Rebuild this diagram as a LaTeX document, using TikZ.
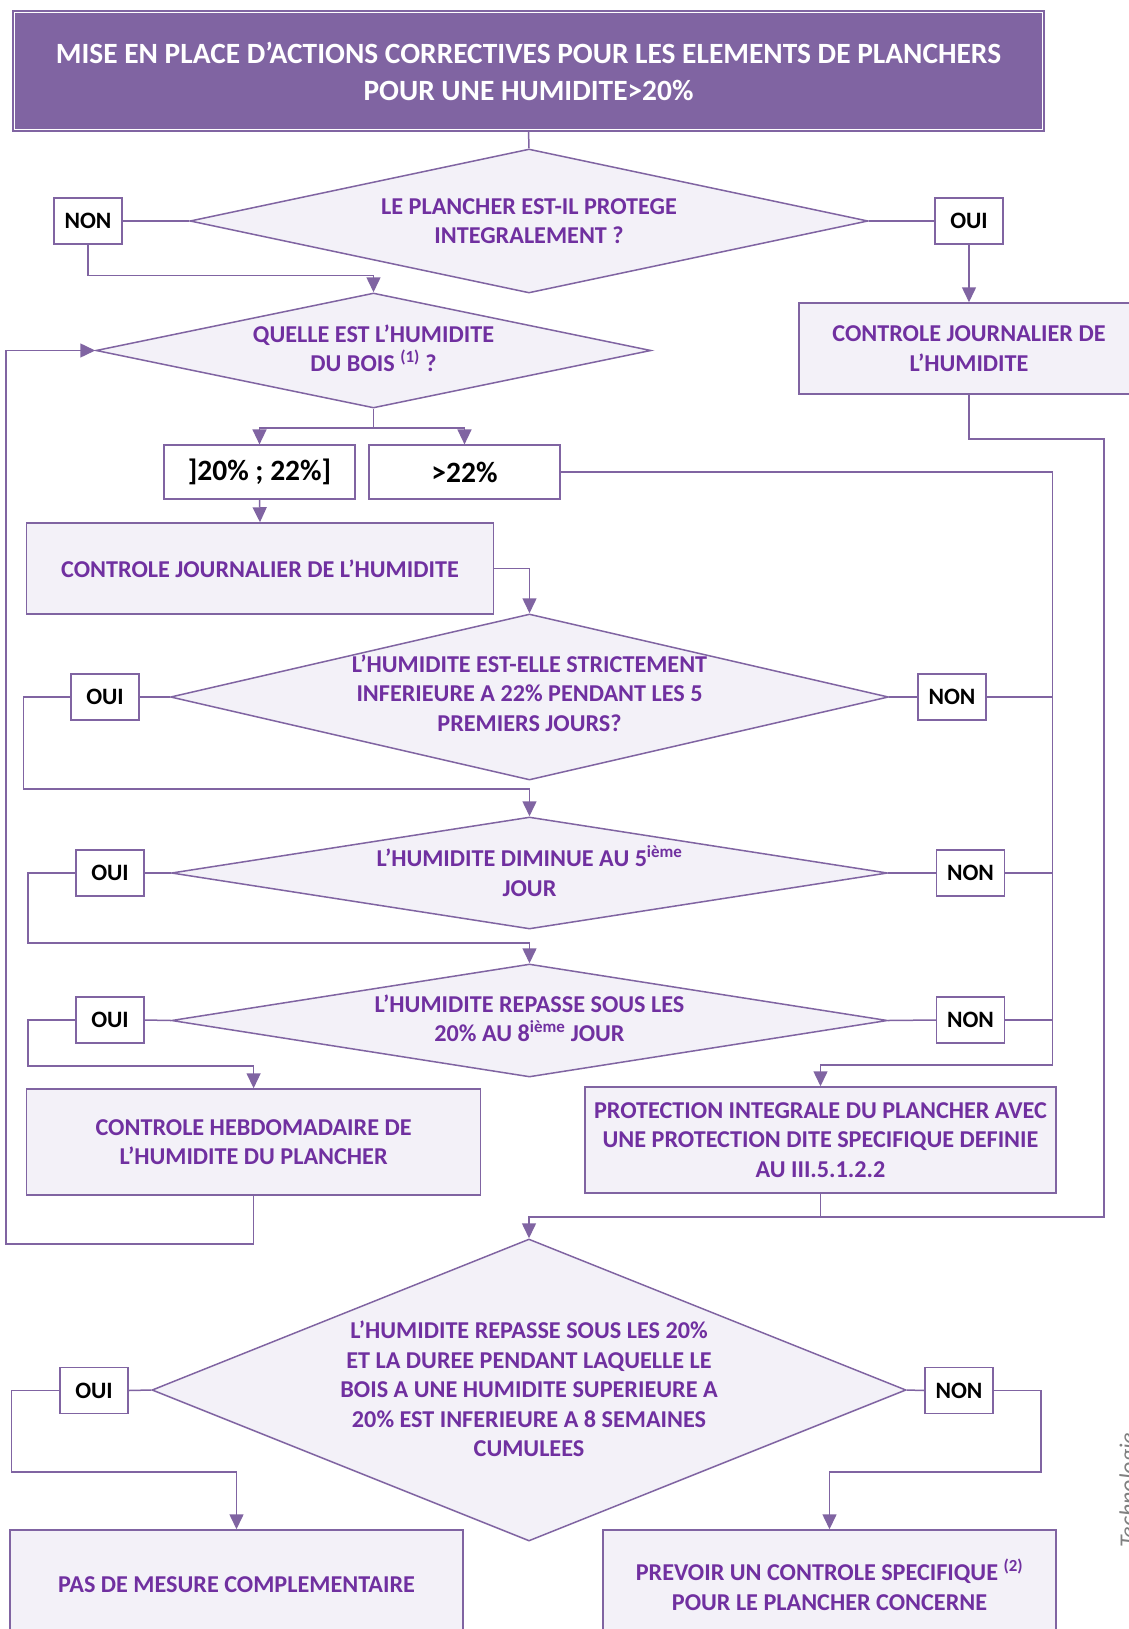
\documentclass[tikz,border=0pt]{standalone}
\usepackage{fontspec}
\setmainfont{Carlito}
\usetikzlibrary{positioning, calc, arrows.meta, shapes.geometric}

\definecolor{titlepurple}{HTML}{8064A2}
\definecolor{linepurple}{HTML}{8064A2}
\definecolor{textpurple}{HTML}{7030A0}
\definecolor{boxlav}{HTML}{F3F1F8}

\begin{document}
\begin{tikzpicture}[x=1pt, y=-1pt,
    decision/.style={diamond, draw=linepurple, fill=boxlav, line width=1.5pt, inner sep=0pt},
    qtext/.style={text=textpurple, font=\bfseries\fontsize{24.2}{29.5}\selectfont, align=center, inner sep=0pt},
    action/.style={rectangle, draw=linepurple, fill=boxlav, line width=1.5pt, text=textpurple,
        font=\bfseries\fontsize{24.2}{29.5}\selectfont, align=center, inner sep=0pt},
    answer/.style={rectangle, draw=linepurple, fill=white, line width=1.2pt, minimum width=68pt,
        minimum height=46pt, inner sep=0pt, font=\bfseries\fontsize{23.5}{28}\selectfont},
    rangebox/.style={answer, minimum width=191pt, minimum height=54pt, font=\bfseries\fontsize{29.5}{34}\selectfont},
    link/.style={draw=linepurple, line width=1.5pt},
    arr/.style={link, -{Triangle[length=15pt, width=14pt]}}]

    % Page
    \path[fill=white] (0,0) rectangle (1128,1629);
    \useasboundingbox (0,0) rectangle (1128,1629);

    % Title
    \node[draw=titlepurple, fill=titlepurple, line width=2pt, double=white, double distance=1.5pt,
        minimum width=1028pt, minimum height=117pt, text=white, align=center,
        font=\bfseries\fontsize{29.4}{37}\selectfont] (title) at (528.5,71)
        {MISE EN PLACE D’ACTIONS CORRECTIVES POUR LES ELEMENTS DE PLANCHERS\\POUR UNE HUMIDITE>20\%};

    % Decisions
    \node[decision, minimum width=678pt, minimum height=144pt] (d1) at (529,221) {};
    \node[qtext] (d1t) at (d1) {LE PLANCHER EST-IL PROTEGE\\INTEGRALEMENT ?};
    \node[decision, minimum width=555pt, minimum height=115pt] (d2) at (373.5,350.5) {};
    \node[qtext] (d2t) at ([yshift=2pt]d2.center) {QUELLE EST L’HUMIDITE\\DU BOIS \textsuperscript{(1)} ?};
    \node[decision, minimum width=718pt, minimum height=166pt] (d3) at (529.5,697) {};
    \node[qtext] (d3t) at ([yshift=4pt]d3.center) {L’HUMIDITE EST-ELLE STRICTEMENT\\INFERIEURE A 22\% PENDANT LES 5\\PREMIERS JOURS?};
    \node[decision, minimum width=716pt, minimum height=112pt] (d4) at (529.5,873) {};
    \node[qtext] (d4t) at ([yshift=2pt]d4.center) {L’HUMIDITE DIMINUE AU 5\textsuperscript{ième}\\JOUR};
    \node[decision, minimum width=716pt, minimum height=113pt] (d5) at (529.5,1020.5) {};
    \node[qtext] (d5t) at ([yshift=2pt]d5.center) {L’HUMIDITE REPASSE SOUS LES\\20\% AU 8\textsuperscript{ième} JOUR};
    \node[decision, minimum width=754pt, minimum height=302pt] (d6) at (529,1390) {};
    \node[qtext] (d6t) at ([yshift=1pt]d6.center) {L’HUMIDITE REPASSE SOUS LES 20\%\\ET LA DUREE PENDANT LAQUELLE LE\\BOIS A UNE HUMIDITE SUPERIEURE A\\20\% EST INFERIEURE A 8 SEMAINES\\CUMULEES};

    % Answers
    \node[answer] (non1) at (88,221) {NON};
    \node[answer] (oui1) at (969,221) {OUI};
    \node[answer] (oui3) at (105,697) {OUI};
    \node[answer] (non3) at (952,697) {NON};
    \node[answer] (oui4) at (110,873) {OUI};
    \node[answer] (non4) at (970.5,873) {NON};
    \node[answer] (oui5) at (110,1020) {OUI};
    \node[answer] (non5) at (970.5,1020) {NON};
    \node[answer] (oui6) at (94,1390.5) {OUI};
    \node[answer] (non6) at (959,1390.5) {NON};
    \node[rangebox] (r1) at (259.5,472) {]20\% ; 22\%]};
    \node[rangebox] (r2) at (464.5,472) {>22\%};

    % Actions
    \node[action, minimum width=340pt, minimum height=91pt] (cj1) at (969,348.5) {CONTROLE JOURNALIER DE\\L’HUMIDITE};
    \node[action, minimum width=467pt, minimum height=91pt] (cj2) at (260,568.5) {CONTROLE JOURNALIER DE L’HUMIDITE};
    \node[action, minimum width=454pt, minimum height=106pt] (ch) at (253.6,1142) {CONTROLE HEBDOMADAIRE DE\\L’HUMIDITE DU PLANCHER};
    \node[action, minimum width=471pt, minimum height=106pt] (prot) at (820.5,1140) {PROTECTION INTEGRALE DU PLANCHER AVEC\\UNE PROTECTION DITE SPECIFIQUE DEFINIE\\AU III.5.1.2.2};
    \node[action, minimum width=453pt, minimum height=110pt] (pm) at (236.5,1585) {PAS DE MESURE COMPLEMENTAIRE};
    \node[action, minimum width=453pt, minimum height=110pt] (pc) at (829.5,1585) {PREVOIR UN CONTROLE SPECIFIQUE \textsuperscript{(2)}\\POUR LE PLANCHER CONCERNE};

    % Side note
    \node[rotate=90, anchor=base west, text=gray, inner sep=0pt, font=\itshape\fontsize{24}{28}\selectfont] (credit) at (1136,1548) {Technologie};

    % Rails
    \coordinate (rail1) at (1052.5,1065);
    \coordinate (merge) at ($(prot.south)+(0,23)$);

    % Connectors
    \draw[link] (title.south) -- (d1.north);
    \draw[link] (non1.east) -- (d1.west);
    \draw[link] (d1.east) -- (oui1.west);
    \draw[arr] (non1.south) -- ++(0,31) -| (d2.north);
    \draw[arr] (oui1.south) -- (cj1.north);
    \draw[link] (cj1.south) -- ++(0,44) -| (merge -| 1104,0) -- (merge);
    \draw[arr] (d2.south) -- ++(0,19) -| (r1.north);
    \draw[arr] (d2.south) ++(0,19) -| (r2.north);
    \draw[arr] (r1.south) -- (cj2.north);
    \draw[arr] (r2.east) -| (rail1) -| (prot.north);
    \draw[arr] (cj2.east) -| (d3.north);
    \foreach \q in {3,4,5,6} {
        \draw[link] (oui\q.east) -- (d\q.west);
        \draw[link] (d\q.east) -- (non\q.west);
    }
    \foreach \q in {3,4,5}
        \draw[link] (non\q.east) -- (non\q.east -| rail1);
    \draw[arr] (oui3.west) -| ++(-47,92) -| (d4.north);
    \draw[arr] (oui4.west) -| ++(-47.5,70) -| (d5.north);
    \draw[arr] (oui5.west) -| ++(-47.5,46) -| (ch.north);
    \draw[arr] (ch.south) -- ++(0,48) -| ++(-247.6,-100) |- (d2.west);
    \draw[arr] (prot.south) -- (merge) -| (d6.north);
    \draw[arr] (oui6.west) -| ++(-48,81.5) -| (pm.north);
    \draw[arr] (non6.east) -| ++(47.5,81.5) -| (pc.north);
\end{tikzpicture}
\end{document}
